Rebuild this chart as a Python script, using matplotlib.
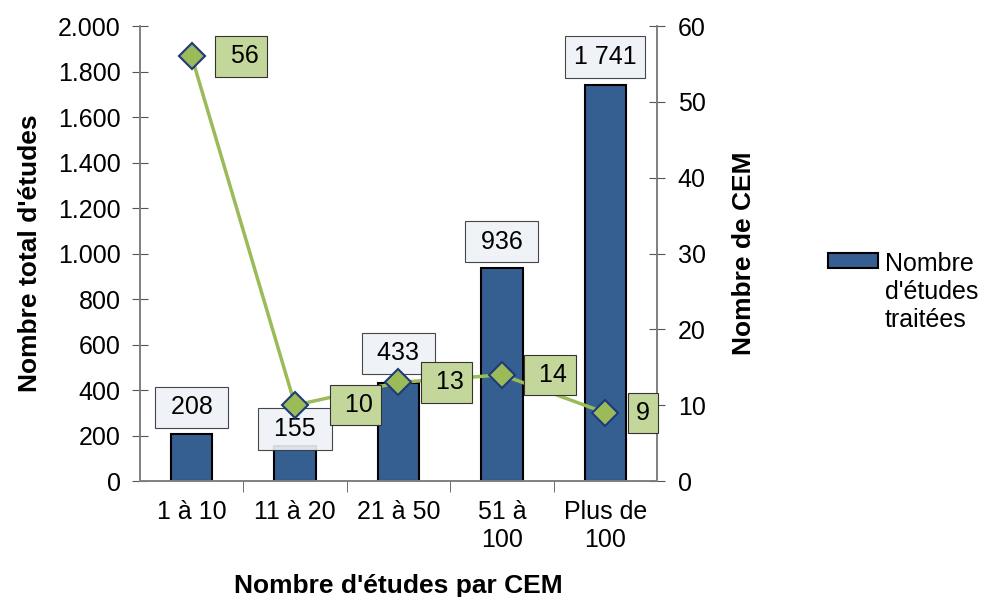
import matplotlib
matplotlib.use('Agg')
from matplotlib import pyplot as plt
from matplotlib.ticker import FuncFormatter, FixedLocator

categories = ['1 à 10', '11 à 20', '21 à 50', '51 à\n100', 'Plus de\n100']
nb_etudes = [208, 155, 433, 936, 1741]
nb_cem = [56, 10, 13, 14, 9]

plt.rcParams['font.family'] = ['Liberation Sans', 'DejaVu Sans']

fig = plt.figure(figsize=(9.87, 5.97), dpi=100)
ax = fig.add_axes([0.1418, 0.1943, 0.5238, 0.762])
ax2 = ax.twinx()

x = list(range(len(categories)))
bars = ax.bar(x, nb_etudes, width=0.4, color='#365f91', edgecolor='black',
              linewidth=1.5, label="Nombre\nd'études\ntraitées", zorder=2)

ax.set_xlim(-0.5, len(categories) - 0.5)
ax.set_ylim(0, 2000)
ax.set_yticks(range(0, 2001, 200))
ax.yaxis.set_major_formatter(FuncFormatter(lambda v, p: f'{int(v):,}'.replace(',', '.')))
ax.set_xticks(x)
ax.set_xticklabels(categories, fontsize=18, linespacing=1.2)
ax.xaxis.set_minor_locator(FixedLocator([i + 0.5 for i in x[:-1]]))
ax.tick_params(axis='x', which='major', length=0, pad=14)
ax.tick_params(axis='x', which='minor', length=8, direction='out', color='#555555')
ax.tick_params(axis='y', labelsize=18, direction='inout', length=11, color='#555555', pad=8.5)

ax2.set_ylim(0, 60)
ax2.set_yticks(range(0, 61, 10))
ax2.tick_params(axis='y', labelsize=18, direction='inout', length=11, color='#555555', pad=9.5)

for a in (ax, ax2):
    a.spines['top'].set_visible(False)
    for s in ('left', 'right', 'bottom'):
        a.spines[s].set_color('#808080')
        a.spines[s].set_linewidth(1.2)

# bar value labels
bar_offsets = [19, 12, 21, 19, 20]
for i, v in enumerate(nb_etudes):
    txt = f'{v:,}'.replace(',', ' ')
    if v < 1000:
        txt = f' {txt} '
    ax.annotate(txt, (x[i], v), xytext=(0, bar_offsets[i]),
                textcoords='offset points', ha='center', va='center', fontsize=18,
                bbox=dict(boxstyle='square,pad=0.35', facecolor='#eef2f8',
                          edgecolor='#333333', linewidth=0.8, alpha=0.9),
                zorder=3)

ax2.plot(x, nb_cem, color='#9bbb59', linewidth=2.5, marker='D', markersize=13,
         markerfacecolor='#9bbb59', markeredgecolor='#1f3a7a', markeredgewidth=1.5,
         zorder=4)

# line value labels, to the right of each marker
line_offsets = [23, 31, 22, 22, 22]
for i, v in enumerate(nb_cem):
    ax2.annotate(f' {v}' if v >= 10 else f'{v}', (x[i], v), xytext=(line_offsets[i], 0),
                 textcoords='offset points', ha='left', va='center', fontsize=18,
                 bbox=dict(boxstyle='square,pad=0.33', facecolor='#c4d79b',
                           edgecolor='#333333', linewidth=0.8),
                 zorder=5)

ax.set_ylabel("Nombre total d'études", fontsize=19, fontweight='bold', labelpad=11)
ax2.set_ylabel('Nombre de CEM', fontsize=19, fontweight='bold', labelpad=19)
ax.set_xlabel("Nombre d'études par CEM", fontsize=19, fontweight='bold', labelpad=16)

leg = fig.legend(handles=[bars], loc='center left', bbox_to_anchor=(0.839, 0.511),
                 frameon=False, fontsize=18, handlelength=2.0, handleheight=0.55,
                 handletextpad=0.28, labelspacing=0.2, borderpad=0, borderaxespad=0)
# put the swatch beside the first line of the label
patch = leg.get_patches()[0]
patch.set_y(patch.get_y() + 23)

fig.savefig('out.png', dpi=100)
